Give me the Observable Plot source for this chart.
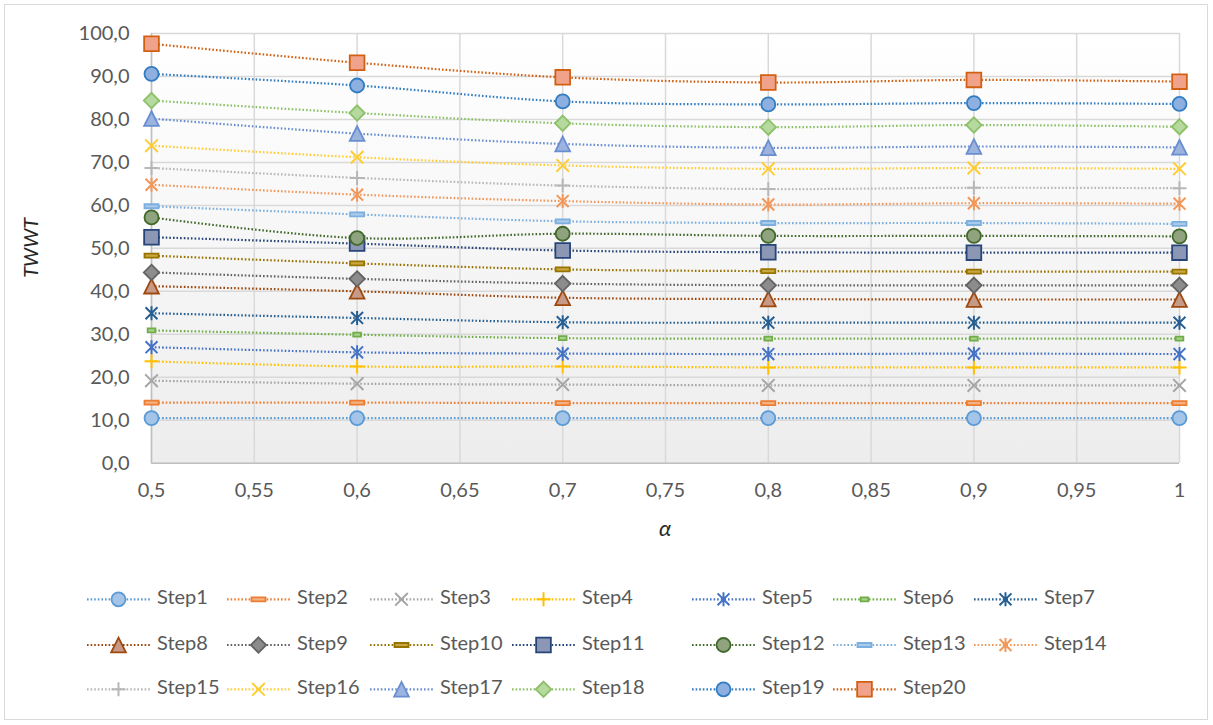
<!DOCTYPE html>
<html><head><meta charset="utf-8">
<script src="https://cdn.jsdelivr.net/npm/d3@7"></script>
<script src="https://cdn.jsdelivr.net/npm/@observablehq/plot@0.6"></script>
<style>
body{margin:0;background:#fff;font-family:Lato,"Open Sans",sans-serif;}
#wrap{position:relative;width:1213px;height:725px;overflow:hidden;background:#fff}
#border{position:absolute;left:4px;top:4px;width:1204px;height:716px;border:1.5px solid #D9D9D9;box-sizing:border-box}
#chart{position:absolute;left:0;top:0}
#legend{position:absolute;left:0;top:560px}
</style></head><body>
<div id="wrap"><div id="border"></div><div id="chart"></div><svg id="legend" width="1213" height="165"></svg></div>
<script>
// ---- data ----
const alphas = [0.5, 0.6, 0.7, 0.8, 0.9, 1];
const xTicks = [0.5, 0.55, 0.6, 0.65, 0.7, 0.75, 0.8, 0.85, 0.9, 0.95, 1];
const yTicks = [0, 10, 20, 30, 40, 50, 60, 70, 80, 90, 100];
const seriesNames = ["Step1","Step2","Step3","Step4","Step5","Step6","Step7","Step8","Step9","Step10",
  "Step11","Step12","Step13","Step14","Step15","Step16","Step17","Step18","Step19","Step20"];
const step1  = [10.5, 10.5, 10.5, 10.5, 10.5, 10.5];
const step2  = [14.1, 14.1, 14.0, 14.0, 14.0, 14.0];
const step3  = [19.2, 18.5, 18.3, 18.1, 18.1, 18.1];
const step4  = [23.7, 22.5, 22.5, 22.3, 22.3, 22.3];
const step5  = [27.0, 25.8, 25.5, 25.4, 25.5, 25.4];
const step6  = [30.9, 29.9, 29.1, 29.0, 29.0, 29.0];
const step7  = [34.9, 33.8, 32.8, 32.7, 32.7, 32.7];
const step8  = [41.2, 40.0, 38.5, 38.2, 38.1, 38.1];
const step9  = [44.4, 42.9, 41.8, 41.4, 41.4, 41.4];
const step10 = [48.3, 46.5, 45.1, 44.7, 44.6, 44.6];
const step11 = [52.6, 51.1, 49.5, 49.1, 49.0, 49.0];
const step12 = [57.2, 52.4, 53.4, 52.9, 52.9, 52.8];
const step13 = [59.8, 57.9, 56.3, 55.9, 55.9, 55.7];
const step14 = [64.8, 62.5, 61.0, 60.2, 60.5, 60.4];
const step15 = [68.7, 66.4, 64.6, 63.8, 64.1, 64.0];
const step16 = [73.9, 71.2, 69.3, 68.5, 68.7, 68.5];
const step17 = [80.2, 76.7, 74.3, 73.4, 73.7, 73.5];
const step18 = [84.4, 81.5, 79.1, 78.2, 78.7, 78.3];
const step19 = [90.6, 87.9, 84.2, 83.5, 83.8, 83.6];
const step20 = [97.6, 93.2, 89.8, 88.6, 89.2, 88.8];
const seriesValues = [step1,step2,step3,step4,step5,step6,step7,step8,step9,step10,
  step11,step12,step13,step14,step15,step16,step17,step18,step19,step20];

// ---- styles ----
const lineColors = ["#5B9BD5","#ED7D31","#A5A5A5","#FFC000","#4472C4","#70AD47","#255E91","#9E480E","#636363","#997300",
  "#264478","#43682B","#7CAFDD","#F1975A","#B7B7B7","#FFCD33","#698ED0","#8CC168","#327DC2","#D26012"];
const markerFills = ["#A4C4E8","#F4B183",null,null,null,"#A9D18E",null,"#C79A87","#8C8C8C","#C9A842",
  "#8C97B5","#8FA47E","#A9CBEB",null,null,null,"#9CB3E0","#B5D99E","#8DB0E0","#F0A38A"];
const shapes = ["circle","dash","x","plus","star","dashS","star","triangle","diamond","dash",
  "square","circle","dash","star","plus","x","triangle","diamond","circle","square"];
const DASH = "1.6,2";

function makeSymbol(kind) {
  return {draw(ctx, size) {
    const r = Math.sqrt(size / Math.PI);
    if (kind === "circle") { ctx.moveTo(r, 0); ctx.arc(0, 0, r, 0, 2 * Math.PI); ctx.closePath(); }
    else if (kind === "square") { const s = r * 1.05; ctx.rect(-s, -s, 2 * s, 2 * s); }
    else if (kind === "diamond") { const s = r * 1.1; ctx.moveTo(0, -s); ctx.lineTo(s, 0); ctx.lineTo(0, s); ctx.lineTo(-s, 0); ctx.closePath(); }
    else if (kind === "triangle") { const s = r * 1.05; ctx.moveTo(0, -s); ctx.lineTo(s, s); ctx.lineTo(-s, s); ctx.closePath(); }
    else if (kind === "x") { const s = r * 0.9; ctx.moveTo(-s, -s); ctx.lineTo(s, s); ctx.moveTo(s, -s); ctx.lineTo(-s, s); }
    else if (kind === "plus") { const s = r; ctx.moveTo(-s, 0); ctx.lineTo(s, 0); ctx.moveTo(0, -s); ctx.lineTo(0, s); }
    else if (kind === "star") { const s = r * 0.85; ctx.moveTo(-s, -s); ctx.lineTo(s, s); ctx.moveTo(s, -s); ctx.lineTo(-s, s); ctx.moveTo(0, -r); ctx.lineTo(0, r); }
    else if (kind === "dash") { ctx.rect(-r, -2, 2 * r, 4); }
    else if (kind === "dashS") { ctx.rect(-r * 0.55, -2, r * 1.1, 4); }
  }};
}

const rows = [];
seriesNames.forEach((name, i) => alphas.forEach((a, j) => rows.push({series: name, idx: i, alpha: a, value: seriesValues[i][j]})));

const fmtY = d => d.toFixed(1).replace(".", ",");
const fmtX = d => String(d).replace(".", ",");
const R = 7;

const marks = [
  Plot.gridY(yTicks, {stroke: "#D9D9D9", strokeOpacity: 1, strokeWidth: 1.5}),
  Plot.gridX(xTicks, {stroke: "#D9D9D9", strokeOpacity: 1, strokeWidth: 1.5}),
  Plot.ruleX([0.5], {stroke: "#BFBFBF", strokeWidth: 1.5}),
  Plot.ruleY([0], {stroke: "#BFBFBF", strokeWidth: 1.5}),
  Plot.axisY(yTicks, {tickFormat: fmtY, tickSize: 0, tickPadding: 22, fontSize: 20, color: "#595959", label: null}),
  Plot.axisX(xTicks, {tickFormat: fmtX, tickSize: 0, tickPadding: 20, fontSize: 20, color: "#595959", label: null})
];
seriesNames.forEach((name, i) => {
  const d = rows.filter(r => r.idx === i);
  marks.push(Plot.line(d, {x: "alpha", y: "value", stroke: lineColors[i], strokeWidth: 2.2,
    strokeDasharray: DASH, strokeLinecap: "butt", curve: "catmull-rom"}));
});
seriesNames.forEach((name, i) => {
  const d = rows.filter(r => r.idx === i);
  const filled = markerFills[i] != null;
  marks.push(Plot.dot(d, {x: "alpha", y: "value", r: R, symbol: makeSymbol(shapes[i]),
    fill: filled ? markerFills[i] : "none", stroke: lineColors[i], strokeWidth: filled ? 1.8 : 2}));
});

const chart = Plot.plot({
  width: 1213, height: 560,
  marginLeft: 151, marginRight: 34, marginTop: 33, marginBottom: 97.3,
  style: {fontFamily: "Lato, 'Open Sans', sans-serif", fontSize: "20px", background: "transparent"},
  x: {domain: [0.5, 1], axis: null},
  y: {domain: [0, 100], axis: null},
  marks
});
document.getElementById("chart").appendChild(chart);

// plot-area gradient background and axis titles
const sx = chart.scale("x"), sy = chart.scale("y");
const svg = d3.select(chart);
const defs = svg.insert("defs", ":first-child");
const g = defs.append("linearGradient").attr("id", "plotbg").attr("x1", 0).attr("y1", 0).attr("x2", 0).attr("y2", 1);
g.append("stop").attr("offset", "0%").attr("stop-color", "#FFFFFF");
g.append("stop").attr("offset", "100%").attr("stop-color", "#EDEDED");
const x0 = sx.apply(0.5), x1 = sx.apply(1), y0 = sy.apply(100), y1 = sy.apply(0);
svg.insert("rect", "g").attr("x", x0).attr("y", y0).attr("width", x1 - x0).attr("height", y1 - y0).attr("fill", "url(#plotbg)");
svg.append("text").attr("transform", `translate(33,${(y0 + y1) / 2}) rotate(-90)`).attr("text-anchor", "middle")
  .attr("dominant-baseline", "middle").attr("font-style", "italic").attr("font-size", 20).attr("fill", "#262626").text("TWWT");
svg.append("text").attr("x", (x0 + x1) / 2).attr("y", 530).attr("text-anchor", "middle")
  .attr("dominant-baseline", "middle").attr("font-style", "italic").attr("font-size", 22).attr("fill", "#262626").text("α");

// legend
const colX = [87, 227, 370, 512, 692, 833, 974];
const rowY = [39.3, 85, 129.3];
const leg = d3.select("#legend");
seriesNames.forEach((name, i) => {
  const cx = colX[i % 7], cy = rowY[Math.floor(i / 7)];
  const item = leg.append("g").attr("transform", `translate(${cx},${cy})`);
  item.append("line").attr("x1", 0).attr("x2", 63).attr("y1", 0).attr("y2", 0)
    .attr("stroke", lineColors[i]).attr("stroke-width", 2.2).attr("stroke-dasharray", DASH);
  const p = d3.path();
  makeSymbol(shapes[i]).draw(p, Math.PI * R * R);
  const filled = markerFills[i] != null;
  item.append("path").attr("transform", "translate(31.5,0)").attr("d", p.toString())
    .attr("fill", filled ? markerFills[i] : "none").attr("stroke", lineColors[i]).attr("stroke-width", filled ? 1.8 : 2);
  item.append("text").attr("x", 70).attr("y", 0).attr("dominant-baseline", "middle")
    .attr("font-size", 20).attr("fill", "#595959").attr("font-family", "Lato, 'Open Sans', sans-serif").text(name);
});
</script>
</body></html>
